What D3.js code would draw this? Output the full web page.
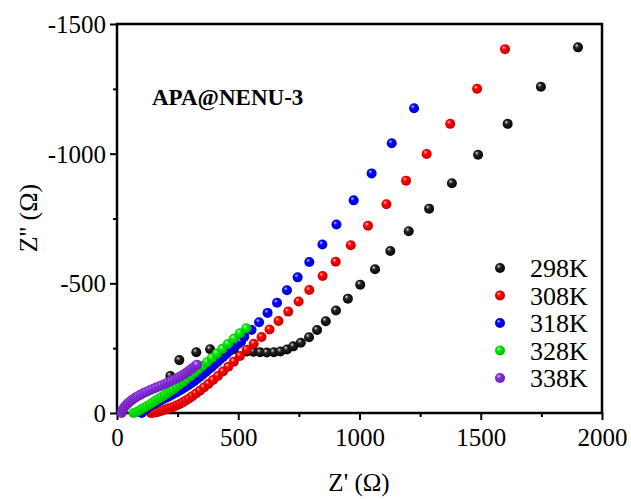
<!DOCTYPE html>
<html><head><meta charset="utf-8">
<script src="https://cdn.jsdelivr.net/npm/d3@7/dist/d3.min.js"></script>
<style>body{margin:0;background:#fff}svg{display:block}</style>
</head><body>
<script>
// ---- data ----
const seriesNames = ["298K","308K","318K","328K","338K"];
const seriesColors = ["#000000","#ff0000","#0000ff","#00ee00","#8a2be2"];

const zRe298 = [220,257,327,384,436,482,535,562,590,618,647,674,701,727,758,792,825,861,903,952,1003,1064,1127,1203,1287,1381,1489,1611,1748,1901];
const zIm298 = [-143,-204,-234,-246,-248,-246,-237,-236,-234,-233,-234,-237,-245,-257,-271,-292,-320,-354,-395,-441,-495,-554,-625,-701,-788,-886,-996,-1115,-1258,-1410];

const zRe308 = [140,148,157,166,175,184,194,204,214,225,236,247,259,271,284,297,311,326,342,359,377,396,416,437,459,482,507,535,564,596,629,666,706,749,793,848,902,964,1035,1111,1192,1277,1374,1485,1600];
const zIm308 = [0,-1,-2,-4,-6,-9,-12,-15,-18,-21,-25,-30,-35,-41,-48,-56,-65,-75,-86,-98,-112,-127,-143,-160,-178,-198,-220,-244,-267,-293,-322,-355,-391,-430,-474,-528,-583,-647,-722,-805,-896,-999,-1115,-1250,-1403];

const zRe318 = [102,110,119,129,140,152,164,177,190,203,216,229,242,255,268,281,294,306,318,330,342,354,366,378,390,402,414,426,438,450,462,474,486,499,512,525,555,586,621,660,701,745,793,847,905,976,1050,1133,1225];
const zIm318 = [0,-8,-15,-22,-29,-35,-41,-47,-53,-59,-65,-71,-78,-85,-92,-99,-107,-115,-123,-131,-140,-149,-158,-168,-177,-187,-197,-207,-217,-227,-237,-247,-257,-266,-276,-294,-320,-350,-386,-425,-473,-523,-582,-650,-727,-820,-924,-1040,-1175];

const zRe328 = [68,78,89,100,112,124,136,148,160,172,184,196,208,220,232,245,258,272,286,301,317,334,352,371,391,412,434,457,482,507,533];
const zIm328 = [0,-3,-8,-14,-20,-27,-34,-41,-48,-55,-62,-69,-76,-84,-92,-101,-110,-120,-131,-142,-154,-167,-181,-196,-212,-229,-247,-266,-287,-308,-327];

const zRe338 = [19,24,30,37,45,54,63,73,84,96,108,120,133,146,159,172,185,198,210,222,234,246,257,268,279,290,300,310,320,330];
const zIm338 = [0,-12,-22,-30,-37,-44,-51,-58,-64,-70,-76,-81,-87,-92,-97,-102,-107,-112,-118,-123,-128,-133,-139,-145,-151,-158,-165,-172,-179,-186];

const xTicks = [0,500,1000,1500,2000];
const yTicks = [0,-500,-1000,-1500];
const title = "APA@NENU-3";
const xTitle = "Z' (Ω)";
const yTitle = "Z'' (Ω)";

const seriesRe = [zRe298,zRe308,zRe318,zRe328,zRe338];
const seriesIm = [zIm298,zIm308,zIm318,zIm328,zIm338];

// ---- layout ----
const W = 631, H = 499;
const L = 117, R = 602, T = 24, B = 413;
const FONT = "'Liberation Serif','Times New Roman',serif";
const svg = d3.select("body").append("svg").attr("width", W).attr("height", H)
  .style("font-family", FONT);

const x = d3.scaleLinear().domain([0,2000]).range([L,R]);
const y = d3.scaleLinear().domain([0,-1500]).range([B,T]);

// gradients
const defs = svg.append("defs");
seriesColors.forEach((c,i) => {
  const g = defs.append("radialGradient").attr("id","g"+i)
    .attr("cx","45%").attr("cy","45%").attr("r","60%").attr("fx","35%").attr("fy","30%");
  const hi = i===0 ? "#d8d8d8" : d3.interpolateRgb(c,"#ffffff")(0.75);
  const dark = d3.color(c).darker(i===0?0:0.8);
  g.append("stop").attr("offset","0%").attr("stop-color",hi);
  g.append("stop").attr("offset","35%").attr("stop-color",i===0?"#222":c);
  g.append("stop").attr("offset","100%").attr("stop-color",i===0?"#000":dark.formatHex());
});

// axes
const xAxis = d3.axisBottom(x).tickValues(xTicks).tickSize(7).tickFormat(d=>String(d));
const xMinor = d3.axisBottom(x).tickValues([250,750,1250,1750]).tickSize(4).tickFormat("");
const yAxis = d3.axisLeft(y).tickValues(yTicks).tickSize(7).tickFormat(d=>String(d));
const yMinor = d3.axisLeft(y).tickValues([-250,-750,-1250]).tickSize(4).tickFormat("");

function styleAxis(g){
  g.select(".domain").remove();
  g.selectAll(".tick line").attr("stroke","#000").attr("stroke-width",2);
  g.selectAll(".tick text").attr("fill","#000").style("font-size","25px")
   .style("font-family",FONT);
}
svg.append("g").attr("transform",`translate(0,${B})`).call(xAxis).call(styleAxis)
  .selectAll(".tick text").attr("dy",0).attr("y",33);
svg.append("g").attr("transform",`translate(0,${B})`).call(xMinor).call(styleAxis);
svg.append("g").attr("transform",`translate(${L},0)`).call(yAxis).call(styleAxis)
  .selectAll(".tick text").attr("x",-11).attr("dy","0.34em");
svg.append("g").attr("transform",`translate(${L},0)`).call(yMinor).call(styleAxis);

// frame
svg.append("rect").attr("x",L).attr("y",T).attr("width",R-L).attr("height",B-T)
  .attr("fill","none").attr("stroke","#000").attr("stroke-width",2.5);

// data points
seriesRe.forEach((xs,i) => {
  const ys = seriesIm[i];
  svg.append("g").selectAll("circle").data(xs.map((v,j)=>[v,ys[j]])).join("circle")
    .attr("cx",d=>x(d[0])).attr("cy",d=>y(d[1])).attr("r",5)
    .attr("fill",`url(#g${i})`);
});

// title
svg.append("text").attr("x",152).attr("y",105).text(title)
  .style("font-size","23px").style("font-weight","bold");

// legend
seriesNames.forEach((n,i)=>{
  const yy = 268 + i*27.5;
  svg.append("circle").attr("cx",500).attr("cy",yy).attr("r",5).attr("fill",`url(#g${i})`);
  svg.append("text").attr("x",530).attr("y",yy+9).text(n).style("font-size","26px");
});

// axis titles
svg.append("text").attr("x",359).attr("y",491).attr("text-anchor","middle")
  .text(xTitle).style("font-size","25px");
svg.append("text").attr("transform",`translate(37,218) rotate(-90)`).attr("text-anchor","middle")
  .text(yTitle).style("font-size","26px");
</script>
</body></html>
